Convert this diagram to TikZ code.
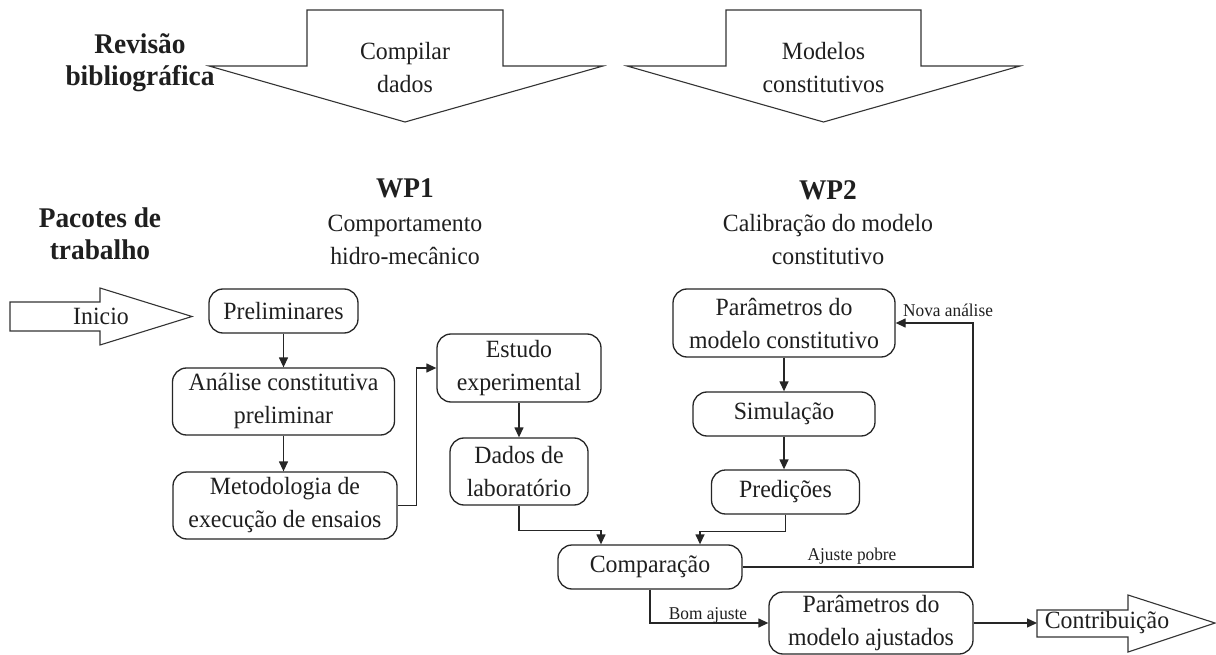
\documentclass[tikz,border=0pt]{standalone}
\usepackage{fontspec}
\setmainfont[FakeStretch=0.96]{Liberation Serif}
\usetikzlibrary{arrows.meta,calc}
\begin{document}
\begin{tikzpicture}[x=1pt,y=-1pt,
  every node/.style={inner sep=0pt,text=black!88},
  bigtxt/.style={font=\fontsize{24.8}{33}\selectfont,align=center},
  smalltxt/.style={font=\fontsize{18}{21}\selectfont},
  headtxt/.style={font=\fontsize{28.5}{32}\selectfont\bfseries,align=center},
  stepbox/.style={draw=black!85,line width=1.3pt,rounded corners=14pt,bigtxt},
  blockarrow/.style={draw=black!80,line width=1.1pt,fill=white},
  conn/.style={draw=black!85,line width=1.3pt,-{Triangle[length=10pt,width=9pt]}},
  plain/.style={draw=black!85,line width=1.3pt}]
\useasboundingbox (0,0) rectangle (1216,655);
\fill[white] (0,0) rectangle (1216,655);

% top block arrows
\draw[blockarrow] (307,10) -- (503,10) -- (503,66) -- (603,66) -- (405,122) -- (209,66) -- (307,66) -- cycle;
\node[bigtxt] (comp1) at (405,68) {Compilar\\dados};
\draw[blockarrow] (726,10) -- (921,10) -- (921,66) -- (1020,66) -- (823.5,122) -- (627,66) -- (726,66) -- cycle;
\node[bigtxt] (mod1) at (823.5,68) {Modelos\\constitutivos};

% headings
\node[headtxt] (rev) at (140,63) {Revisão\\bibliográfica};
\node[headtxt] (pac) at (100,234) {Pacotes de\\trabalho};
\node[headtxt] (wp1) at (405,188) {WP1};
\node[bigtxt] (wp1t) at (405,240) {Comportamento\\hidro-mecânico};
\node[headtxt] (wp2) at (828,190) {WP2};
\node[bigtxt] (wp2t) at (828,240) {Calibração do modelo\\constitutivo};

% Inicio arrow
\draw[blockarrow] (10,302) -- (100,302) -- (100,288) -- (192,316.5) -- (100,345) -- (100,331) -- (10,331) -- cycle;
\node[bigtxt] (ini) at (101,316.5) {Inicio};

% boxes
\node[stepbox,minimum width=149pt,minimum height=44pt] (pre) at (283.5,311) {Preliminares};
\node[stepbox,minimum width=222pt,minimum height=67pt] (ana) at (283.5,401.5) {Análise constitutiva\\preliminar};
\node[stepbox,minimum width=224pt,minimum height=67pt] (met) at (285,505.5) {Metodologia de\\execução de ensaios};
\node[stepbox,minimum width=164pt,minimum height=68pt] (est) at (519,368) {Estudo\\experimental};
\node[stepbox,minimum width=138pt,minimum height=67pt] (dad) at (519,471.5) {Dados de\\laboratório};
\node[stepbox,minimum width=184pt,minimum height=44pt] (cmp) at (650,567) {Comparação};
\node[stepbox,minimum width=222pt,minimum height=68pt] (par1) at (784,323) {Parâmetros do\\modelo constitutivo};
\node[stepbox,minimum width=182pt,minimum height=44pt] (sim) at (784,414) {Simulação};
\node[stepbox,minimum width=148pt,minimum height=44pt] (pred) at (785.5,492) {Predições};
\node[stepbox,minimum width=204pt,minimum height=62pt] (par2) at (871,623) {Parâmetros do\\modelo ajustados};

% Contribuicao arrow
\draw[blockarrow] (1037,610) -- (1128,610) -- (1128,595) -- (1215,623) -- (1128,652) -- (1128,637) -- (1037,637) -- cycle;
\coordinate (cin) at (1037,623);
\node[bigtxt] (con) at (1107,623) {Contribuição};

% connectors
\draw[conn] (pre.south) -- (pre.south |- ana.north);
\draw[conn] (ana.south) -- (ana.south |- met.north);
\draw[conn] (met.east) -- ++(19,0) |- (est.west);
\draw[conn] (est.south) -- (dad.north);
\draw[conn] (dad.south) -- ++(0,25) -| ([xshift=-49pt]cmp.north);
\draw[conn] (par1.south) -- (sim.north);
\draw[conn] (sim.south) -- (sim.south |- pred.north);
\draw[conn] (pred.south) -- ++(0,17) -| ([xshift=50pt]cmp.north);
\coordinate (rx) at (973,0);
\draw[conn] (cmp.east) -- (cmp.east -| rx) |- (par1.east);
\node[smalltxt] (ap) at (852,556) {Ajuste pobre};
\node[smalltxt,anchor=west] (na) at (903,310) {Nova análise};
\draw[conn] (cmp.south) |- (par2.west);
\node[smalltxt] (ba) at (708,615) {Bom ajuste};
\draw[conn] (par2.east) -- (cin);
\end{tikzpicture}
\end{document}
